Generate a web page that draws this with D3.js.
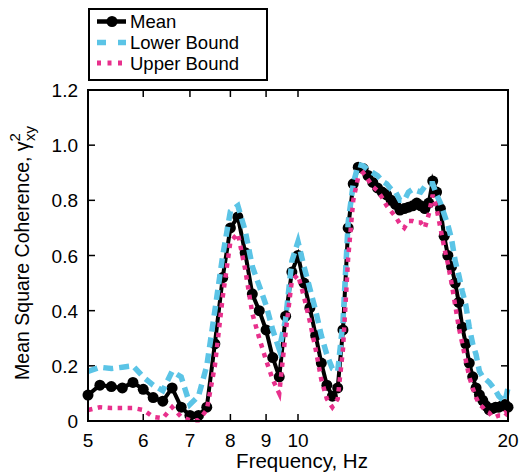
<!DOCTYPE html>
<html>
<head>
<meta charset="utf-8">
<script src="https://cdn.jsdelivr.net/npm/d3@7"></script>
<style>
  body { margin: 0; background: #fff; }
  text { font-family: "Liberation Sans", Arial, sans-serif; fill: #000; }
</style>
</head>
<body>
<div id="chart"></div>
<script>
// Frequencies (Hz), 0.2 Hz step
let freqs = d3.range(76).map(i => +(5 + i * 0.2).toFixed(1));

let mean_vals = [0.094, 0.13, 0.125, 0.12, 0.14, 0.115, 0.085, 0.072, 0.12, 0.05,
    0.02, 0.02, 0.05, 0.28, 0.52, 0.70, 0.74, 0.61, 0.46, 0.40,
    0.33, 0.23, 0.16, 0.38, 0.54, 0.60, 0.50, 0.41, 0.31, 0.21,
    0.13, 0.09, 0.12, 0.33, 0.70, 0.86, 0.92, 0.915, 0.89, 0.865,
    0.845, 0.83, 0.82, 0.80, 0.785, 0.765, 0.77, 0.775, 0.78, 0.79,
    0.78, 0.77, 0.79, 0.87, 0.83, 0.77, 0.67, 0.60, 0.56, 0.50,
    0.43, 0.34, 0.28, 0.21, 0.16, 0.12, 0.095, 0.075, 0.055, 0.04,
    0.045, 0.05, 0.05, 0.055, 0.06, 0.05];

let lower_vals = [0.18, 0.195, 0.19, 0.195, 0.20, 0.16, 0.13, 0.11, 0.18, 0.16,
    0.06, 0.09, 0.20, 0.40, 0.60, 0.76, 0.78, 0.69, 0.56, 0.49,
    0.42, 0.33, 0.26, 0.37, 0.58, 0.65, 0.56, 0.48, 0.40, 0.31,
    0.24, 0.19, 0.18, 0.36, 0.72, 0.86, 0.93, 0.925, 0.91, 0.90,
    0.89, 0.87, 0.86, 0.84, 0.83, 0.80, 0.80, 0.83, 0.84, 0.835,
    0.83, 0.85, 0.86, 0.86, 0.82, 0.79, 0.75, 0.71, 0.66, 0.58,
    0.53, 0.47, 0.42, 0.34, 0.28, 0.24, 0.18, 0.16, 0.15, 0.14,
    0.125, 0.11, 0.09, 0.08, 0.07, 0.12];

let upper_vals = [0.04, 0.05, 0.047, 0.047, 0.047, 0.04, 0.015, 0.01, 0.05, 0.015,
    0.003, 0.003, 0.04, 0.20, 0.45, 0.65, 0.68, 0.55, 0.39, 0.30,
    0.22, 0.15, 0.10, 0.32, 0.51, 0.53, 0.45, 0.36, 0.26, 0.15,
    0.08, 0.05, 0.08, 0.26, 0.59, 0.80, 0.885, 0.90, 0.875, 0.85,
    0.835, 0.81, 0.78, 0.76, 0.74, 0.715, 0.70, 0.725, 0.725, 0.72,
    0.72, 0.70, 0.75, 0.82, 0.77, 0.70, 0.63, 0.57, 0.50, 0.42,
    0.34, 0.28, 0.22, 0.16, 0.12, 0.085, 0.06, 0.05, 0.035, 0.03,
    0.015, 0.015, 0.02, 0.02, 0.03, 0.02];

let x_ticks = [5, 6, 7, 8, 9, 10, 20];
let y_ticks = [0, 0.2, 0.4, 0.6, 0.8, 1.0, 1.2];
let series_names = ["Mean", "Lower Bound", "Upper Bound"];

const CYAN = "#5bc4e6", PINK = "#e8308c";

function gen_chart() {
    let width = 520, height = 472;
    let margin = {left: 88, right: 12, top: 90, bottom: 51};

    let svg = d3.select("#chart").append("svg")
        .attr("width", width)
        .attr("height", height);

    let x = d3.scaleLog()
        .domain([5, 20])
        .range([margin.left, width - margin.right]);
    let y = d3.scaleLinear()
        .domain([0, 1.2])
        .range([height - margin.bottom, margin.top]);

    let x0 = x.range()[0], x1 = x.range()[1];
    let y0 = y.range()[0], y1 = y.range()[1];

    // ticks, pointing inward on all four sides
    let tl = 7;
    let g = svg.append("g").attr("stroke", "#000").attr("stroke-width", 1.5);
    x_ticks.slice(1, -1).forEach(t => {
        g.append("line").attr("x1", x(t)).attr("x2", x(t)).attr("y1", y0).attr("y2", y0 - tl);
        g.append("line").attr("x1", x(t)).attr("x2", x(t)).attr("y1", y1).attr("y2", y1 + tl);
    });
    y_ticks.slice(1, -1).forEach(t => {
        g.append("line").attr("x1", x0).attr("x2", x0 + tl).attr("y1", y(t)).attr("y2", y(t));
        g.append("line").attr("x1", x1).attr("x2", x1 - tl).attr("y1", y(t)).attr("y2", y(t));
    });

    // tick labels
    svg.append("g").selectAll("text")
        .data(x_ticks)
        .enter().append("text")
        .attr("x", d => x(d))
        .attr("y", y0 + 26)
        .attr("text-anchor", "middle")
        .style("font-size", "19px")
        .text(d => d);
    svg.append("g").selectAll("text")
        .data(y_ticks)
        .enter().append("text")
        .attr("x", x0 - 10)
        .attr("y", d => y(d) + 7)
        .attr("text-anchor", "end")
        .style("font-size", "19px")
        .text(d => d === 0 ? "0" : d3.format(".1f")(d));

    // axis titles
    svg.append("text")
        .attr("x", 302)
        .attr("y", 468)
        .attr("text-anchor", "middle")
        .style("font-size", "20.5px")
        .text("Frequency, Hz");

    let yl = svg.append("text")
        .attr("transform", "translate(29,253) rotate(-90)")
        .attr("text-anchor", "middle")
        .style("font-size", "19.5px");
    yl.append("tspan").text("Mean Square Coherence, \u03b3");
    yl.append("tspan").attr("dy", -9).style("font-size", "15px").text("2");
    yl.append("tspan").attr("dx", -8).attr("dy", 15).style("font-size", "15px").text("xy");

    let line = d3.line().x(d => x(d[0])).y(d => y(d[1]));
    let mean_pts = freqs.map((f, i) => [f, mean_vals[i]]);
    let lower_pts = freqs.map((f, i) => [f, lower_vals[i]]);
    let upper_pts = freqs.map((f, i) => [f, upper_vals[i]]);

    let plot = svg.append("g");
    plot.append("path")
        .datum(mean_pts)
        .attr("d", line)
        .attr("fill", "none")
        .attr("stroke", "#000")
        .attr("stroke-width", 4);
    plot.selectAll("circle")
        .data(mean_pts)
        .enter().append("circle")
        .attr("cx", d => x(d[0]))
        .attr("cy", d => y(d[1]))
        .attr("r", 5.5)
        .attr("fill", "#000");
    plot.append("path")
        .datum(lower_pts)
        .attr("d", line)
        .attr("fill", "none")
        .attr("stroke", CYAN)
        .attr("stroke-width", 5.5)
        .attr("stroke-dasharray", "10,6");
    plot.append("path")
        .datum(upper_pts)
        .attr("d", line)
        .attr("fill", "none")
        .attr("stroke", PINK)
        .attr("stroke-width", 4.5)
        .attr("stroke-dasharray", "4.5,5.5");

    // frame
    svg.append("rect")
        .attr("x", x0).attr("y", y1)
        .attr("width", x1 - x0).attr("height", y0 - y1)
        .attr("fill", "none").attr("stroke", "#000").attr("stroke-width", 2);

    // legend
    let lg = svg.append("g");
    lg.append("rect")
        .attr("x", 89).attr("y", 9).attr("width", 178).attr("height", 71)
        .attr("fill", "#fff").attr("stroke", "#000").attr("stroke-width", 2);
    let rows = [21.5, 42.5, 63];
    lg.append("line").attr("x1", 97).attr("x2", 126).attr("y1", rows[0]).attr("y2", rows[0])
        .attr("stroke", "#000").attr("stroke-width", 4.5);
    lg.append("circle").attr("cx", 112).attr("cy", rows[0]).attr("r", 5.5).attr("fill", "#000");
    lg.append("line").attr("x1", 97).attr("x2", 126).attr("y1", rows[1]).attr("y2", rows[1])
        .attr("stroke", CYAN).attr("stroke-width", 5.5).attr("stroke-dasharray", "9,12");
    lg.append("line").attr("x1", 97).attr("x2", 126).attr("y1", rows[2]).attr("y2", rows[2])
        .attr("stroke", PINK).attr("stroke-width", 5).attr("stroke-dasharray", "4,6.5");
    lg.selectAll("text.lab")
        .data(series_names)
        .enter().append("text")
        .attr("class", "lab")
        .attr("x", 130)
        .attr("y", (d, i) => rows[i] + 6.5)
        .style("font-size", "18.5px")
        .text(d => d);
}

gen_chart();
</script>
</body>
</html>
